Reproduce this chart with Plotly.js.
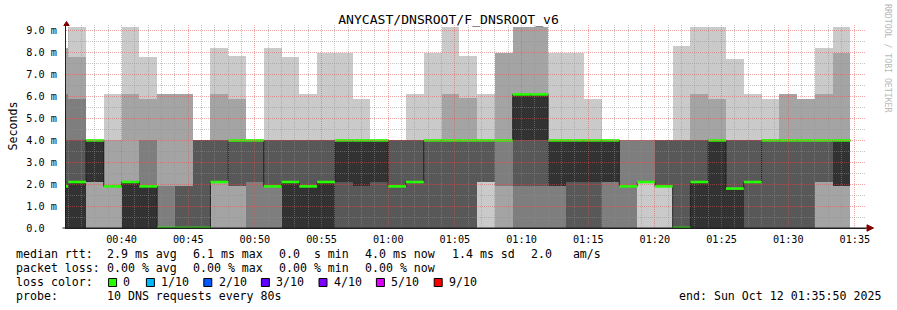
<!DOCTYPE html>
<html><head><meta charset="utf-8">
<script src="https://cdn.plot.ly/plotly-3.0.1.min.js"></script>
<style>html,body{margin:0;padding:0;background:#fff}#chart{width:897px;height:310px}</style>
</head><body><div id="chart"></div>
<script>
// ---- data (10 sorted DNS pings per 80 s step, ms) ----
const starts = ['00:34:40','00:36:00','00:37:20','00:38:40','00:40:00','00:41:20','00:42:40','00:44:00','00:45:20','00:46:40',
 '00:48:00','00:49:20','00:50:40','00:52:00','00:53:20','00:54:40','00:56:00','00:57:20','00:58:40','01:00:00',
 '01:01:20','01:02:40','01:04:00','01:05:20','01:06:40','01:08:00','01:09:20','01:10:40','01:12:00','01:13:20',
 '01:14:40','01:16:00','01:17:20','01:18:40','01:20:00','01:21:20','01:22:40','01:24:00','01:25:20','01:26:40',
 '01:28:00','01:29:20','01:30:40','01:32:00','01:33:20'];
const p1  = [0,0,0,0,0,0,0,0,0,0, 0,0,0,0,0,0,0,0,0,0, 0,0,0,0,0,0,0,0,0,0, 0,0,0,0,0,0,0,0,0,0, 0,0,0,0,0];
const p2  = [0,0,0,0,0,0,0,0,0,0, 0,0,0,0,0,0,0,0,0,0, 0,0,0,0,2.1,0,0,0,0,0, 0,0,0,2.1,1.9,0,0,0,0,0, 0,0,0,0,0];
const p3  = [0,0,2.1,1.9,0,0,0,0,0,2.1, 1.9,0,0,0,0,0,0,0,0,0, 0,0,0,0,2.1,1.9,0,0,0,0, 0,0,0,2.1,1.9,0,0,0,0,0, 0,0,0,2.1,1.9];
const p4  = [0,0,2.1,1.9,0,0,0,0,0,2.1, 1.9,2.1,1.9,0,0,0,0,0,0,0, 0,0,0,0,2.1,4.0,1.9,1.9,1.9,0, 0,2.1,1.9,2.1,1.9,0,0,0,0,0, 0,0,0,2.1,1.9];
const p5  = [0,0,2.1,1.9,0,0,0,0,0,2.1, 4.0,4.0,1.9,0,0,0,2.1,1.9,2.1,1.9, 2.1,4.0,4.0,4.0,4.0,4.0,4.0,4.0,1.9,2.1, 2.1,2.1,1.9,2.1,1.9,0,0,0,0,2.1, 4.0,4.0,4.0,4.0,1.9];
const p6  = [1.9,2.1,4.0,1.9,2.1,1.9,0,0,0,2.1, 4.0,4.0,1.9,2.1,1.9,2.1,4.0,4.0,4.0,1.9, 2.1,4.0,4.0,4.0,4.0,4.0,6.1,6.1,4.0,4.0, 4.0,4.0,1.9,2.1,1.9,0,2.1,4.0,1.8,2.1, 4.0,4.0,4.0,4.0,4.0];
const p7  = [4.0,4.0,4.0,1.9,2.1,1.9,0,1.9,4.0,4.0, 4.0,4.0,4.0,4.0,4.0,4.0,4.0,4.0,4.0,4.0, 4.0,4.0,4.0,4.0,4.0,4.0,6.1,6.1,4.0,4.0, 4.0,4.0,1.9,2.1,4.0,4.0,4.0,4.0,4.0,4.0, 4.0,4.0,4.0,4.0,4.0];
const p8  = [6.1,5.9,4.0,1.9,2.1,4.0,1.9,1.9,4.0,4.0, 4.0,4.0,4.0,4.0,4.0,4.0,4.0,4.0,4.0,4.0, 4.0,4.0,4.0,4.0,4.0,4.0,6.1,6.1,4.0,4.0, 4.0,4.0,4.0,4.0,4.0,4.0,4.0,4.0,4.0,4.0, 4.0,4.0,4.0,4.0,4.0];
const p9  = [8.2,7.8,4.0,4.0,6.1,5.9,6.1,6.1,4.0,6.1, 5.9,4.0,4.0,4.0,4.0,4.0,4.0,4.0,4.0,4.0, 4.0,4.0,6.1,5.95,4.0,8.0,9.2,9.2,4.0,4.0, 4.0,4.0,4.0,4.0,4.0,4.0,6.1,5.9,4.0,4.0, 4.0,6.1,5.9,6.1,8.0];
const p10 = [8.2,9.2,4.0,6.1,9.2,7.8,6.1,6.1,4.0,8.2, 7.85,4.0,8.2,7.8,6.1,8.0,8.0,5.9,4.0,4.0, 6.1,8.0,9.2,7.85,6.1,8.0,9.2,9.2,8.0,8.0, 5.9,4.0,4.0,4.0,4.0,8.3,9.2,9.2,7.7,6.1, 5.9,6.1,5.9,8.2,9.2];
const median = [1.9,2.1,4.0,1.9,2.1,1.9,0,0,0,2.1, 4.0,4.0,1.9,2.1,1.9,2.1,4.0,4.0,4.0,1.9, 2.1,4.0,4.0,4.0,4.0,4.0,6.1,6.1,4.0,4.0, 4.0,4.0,1.9,2.1,1.9,0,2.1,4.0,1.8,2.1, 4.0,4.0,4.0,4.0,4.0];
const lossCount = [0,0,0,0,0,0,0,0,0,0, 0,0,0,0,0,0,0,0,0,0, 0,0,0,0,0,0,0,0,0,0, 0,0,0,0,0,0,0,0,0,0, 0,0,0,0,0];
const lossLabels = ['0','1/10','2/10','3/10','4/10','5/10','9/10'];
const lossLevels = [0,1,2,3,4,5,9];
const lossColors = ['#26ff00','#00b8ff','#0059ff','#5e00ff','#7e00ff','#dd00ff','#ff0000'];
const yTickVals = [0,1,2,3,4,5,6,7,8,9];
const yTickText = ['0.0\u00a0\u00a0','1.0 m','2.0 m','3.0 m','4.0 m','5.0 m','6.0 m','7.0 m','8.0 m','9.0 m'];
const smokeShades = ['#cacaca','#a4a4a4','#7e7e7e','#585858','#323232'];

// ---- helpers ----
const STEP = 80000;
const DAY0 = Date.UTC(2025, 9, 12);
function ms(s){const a=s.split(':').map(Number);return DAY0+a[0]*3600000+a[1]*60000+a[2]*1000;}
const t0 = starts.map(ms);
const xStart = ms('00:35:50'), xEnd = ms('01:35:50');
const yMax = 9.27;
const L=66, T=25, W=800, H=203;
const P = (px)=> (px-L)/W;
const Q = (py)=> (T+H-py)/H;
const MONO = 'DejaVu Sans Mono';

const traces = [];
const pairs = [[p1,p10],[p2,p9],[p3,p8],[p4,p7],[p5,p6]];
pairs.forEach((pr,i)=>{
  traces.push({type:'bar', x:t0.map(t=>t+STEP/2), base:pr[0], y:pr[1].map((v,k)=>v-pr[0][k]),
    width:STEP, marker:{color:smokeShades[i], line:{width:0}}, hoverinfo:'skip', showlegend:false});
});
// median step line
traces.push({type:'scatter', mode:'lines', x:t0.concat([t0[t0.length-1]+STEP]), y:median.concat([median[median.length-1]]),
  line:{shape:'hv', color:'#202020', width:1}, hoverinfo:'skip', showlegend:false});
// median band coloured by loss
lossLevels.forEach((lv,li)=>{
  const xs=[], ys=[];
  median.forEach((m,k)=>{ if(lossCount[k]===lv){ xs.push(t0[k],t0[k]+STEP,null); ys.push(m,m,null);} });
  if(xs.length) traces.push({type:'scatter', mode:'lines', x:xs, y:ys, line:{color:lossColors[li], width:2.6},
    hoverinfo:'skip', showlegend:false});
});

// ---- grid (drawn above data, rrdtool style, snapped to pixel centres) ----
const shapes = [];
const minorC='rgba(144,144,144,0.5)', majorC='rgba(224,80,80,0.5)';
const snapX = t => P(Math.floor(L + (t-xStart)/(xEnd-xStart)*W) + 0.5);
const snapY = v => Q(Math.floor(T + H - v/yMax*H) + 0.5);
for(let t=Math.ceil(xStart/60000)*60000; t<=xEnd; t+=60000){
  const major = ((t-DAY0)%300000)===0;
  const px = snapX(t);
  shapes.push({type:'line', xref:'paper', yref:'paper', x0:px, x1:px, y0:0, y1:1, layer:'above',
    line:{color: major?majorC:minorC, width:1, dash:'1px,1px'}});
}
for(let v=0.5; v<=yMax; v+=0.5){
  const major = Math.abs(v-Math.round(v))<1e-6;
  const py = snapY(v);
  shapes.push({type:'line', xref:'paper', yref:'paper', x0:0, x1:1, y0:py, y1:py, layer:'above',
    line:{color: major?majorC:minorC, width:1, dash:'1px,1px'}});
}
// axis extension and arrows
shapes.push({type:'line', xref:'paper', yref:'paper', x0:P(62.5), x1:P(869), y0:0, y1:0, layer:'above', line:{color:'#202020', width:1}});
shapes.push({type:'path', xref:'paper', yref:'paper', layer:'above', fillcolor:'#800000', line:{color:'#800000', width:1},
  path:`M ${P(867)} ${Q(224.8)} L ${P(873.5)} ${Q(228)} L ${P(867)} ${Q(231.2)} Z`});
shapes.push({type:'path', xref:'paper', yref:'paper', layer:'above', fillcolor:'#800000', line:{color:'#800000', width:1},
  path:`M ${P(63.8)} ${Q(25.5)} L ${P(66.5)} ${Q(21.5)} L ${P(69.2)} ${Q(25.5)} Z`});

// ---- legend texts ----
const ann = [];
function txt(px,py,text,opt){ann.push(Object.assign({xref:'paper',yref:'paper',x:P(px),y:Q(py),text:text,showarrow:false,
  xanchor:'left',yanchor:'middle',borderpad:0,borderwidth:0,font:{family:MONO,size:11.6,color:'#000'}},opt||{}));}
const nb = s=>s.replace(/ /g,'\u00a0');
const row1=[[16,'median rtt:'],[107.3,'2.9 ms avg'],[193.3,'6.1 ms max'],[279.3,'0.0  s min'],[365,'4.0 ms now'],[451.7,'1.4 ms sd'],[531,'2.0   am/s']];
const row2=[[16,'packet loss:'],[107.3,'0.00 % avg'],[193.3,'0.00 % max'],[279.3,'0.00 % min'],[365,'0.00 % now']];
row1.forEach(r=>txt(r[0],254.3,nb(r[1])));
row2.forEach(r=>txt(r[0],268.3,nb(r[1])));
txt(16,282.3,nb('loss color:'));
const swX=[108.6,146.4,203.8,261.4,319,376.4,434.2];
lossLabels.forEach((lb,i)=>{
  shapes.push({type:'rect', xref:'paper', yref:'paper', x0:P(swX[i]), x1:P(swX[i]+8), y0:Q(286.5), y1:Q(278.5), layer:'above',
    fillcolor:lossColors[i], line:{color:'#000', width:1}});
  txt(swX[i]+14.7,282.3,lb);
});
txt(16,296.2,'probe:');
txt(107.3,296.2,nb('10 DNS requests every 80s'));
txt(881,296.2,nb('end: Sun Oct 12 01:35:50 2025'),{xanchor:'right'});
// y unit label
txt(12,126.5,'Seconds',{xanchor:'center',textangle:-90});
// watermark
txt(888,58,nb('RRDTOOL / TOBI OETIKER'),{xanchor:'center',textangle:90,font:{family:MONO,size:8.2,color:'#b8b8b8'}});

const layout = {
  width:897, height:310, autosize:false,
  margin:{l:L, r:897-L-W, t:T, b:310-T-H, pad:0},
  paper_bgcolor:'#ffffff', plot_bgcolor:'#ffffff',
  barmode:'overlay', bargap:0, showlegend:false,
  title:{text:'ANYCAST/DNSROOT/F_DNSROOT_v6', x:0.5, xref:'container', xanchor:'center',
    y:1-19.5/310, yref:'container', yanchor:'middle', font:{family:MONO, size:13.1, color:'#000'}},
  xaxis:{type:'date', range:[xStart,xEnd], tickformat:'%H:%M', dtick:300000, tick0:DAY0,
    showgrid:false, zeroline:false, showline:true, linecolor:'#202020', linewidth:1, ticks:'',
    tickfont:{family:MONO, size:10.2, color:'#000'}, ticklabelstandoff:2, fixedrange:true},
  yaxis:{range:[0,yMax], tickvals:yTickVals, ticktext:yTickText, showgrid:false, zeroline:false,
    showline:true, linecolor:'#202020', linewidth:1, ticks:'', tickfont:{family:MONO, size:10.2, color:'#000'},
    ticklabelstandoff:6, fixedrange:true},
  shapes:shapes, annotations:ann
};
Plotly.newPlot('chart', traces, layout, {staticPlot:true, displayModeBar:false});
</script></body></html>
